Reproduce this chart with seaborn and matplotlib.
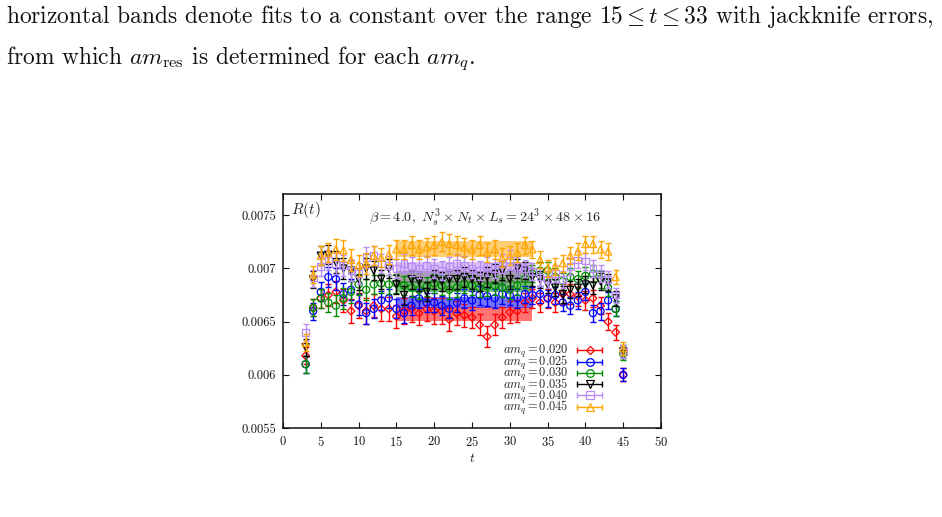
import numpy as np
import pandas as pd
import matplotlib
matplotlib.use("Agg")
import matplotlib.pyplot as plt
import seaborn as sns
from matplotlib.lines import Line2D
from matplotlib.legend_handler import HandlerLine2D, HandlerTuple
from matplotlib.ticker import FuncFormatter, MultipleLocator

# ---------------- data ----------------
t = list(range(3, 46))
labels = ["0.020", "0.025", "0.030", "0.035", "0.040", "0.045"]

r_020 = [0.00618, 0.00663, 0.00672, 0.00675, 0.00678, 0.00670, 0.00660, 0.00665, 0.00660, 0.00665,
         0.00662, 0.00662, 0.00655, 0.00660, 0.00662, 0.00658, 0.00662, 0.00660, 0.00660, 0.00652,
         0.00658, 0.00656, 0.00654, 0.00647, 0.00636, 0.00647, 0.00654, 0.00659, 0.00660, 0.00668,
         0.00672, 0.00668, 0.00672, 0.00668, 0.00676, 0.00676, 0.00674, 0.00670, 0.00672, 0.00665,
         0.00650, 0.00640, 0.00600]
r_025 = [0.00610, 0.00660, 0.00678, 0.00692, 0.00690, 0.00676, 0.00680, 0.00666, 0.00658, 0.00662,
         0.00670, 0.00672, 0.00662, 0.00658, 0.00665, 0.00672, 0.00668, 0.00668, 0.00665, 0.00662,
         0.00668, 0.00672, 0.00670, 0.00675, 0.00674, 0.00672, 0.00676, 0.00675, 0.00672, 0.00676,
         0.00675, 0.00676, 0.00672, 0.00675, 0.00668, 0.00665, 0.00670, 0.00678, 0.00658, 0.00660,
         0.00670, 0.00662, 0.00600]
r_030 = [0.00610, 0.00663, 0.00672, 0.00668, 0.00665, 0.00672, 0.00678, 0.00685, 0.00680, 0.00685,
         0.00686, 0.00685, 0.00686, 0.00684, 0.00682, 0.00680, 0.00683, 0.00686, 0.00684, 0.00680,
         0.00682, 0.00686, 0.00684, 0.00682, 0.00683, 0.00684, 0.00682, 0.00680, 0.00684, 0.00690,
         0.00695, 0.00698, 0.00698, 0.00692, 0.00688, 0.00692, 0.00690, 0.00693, 0.00695, 0.00690,
         0.00682, 0.00662, 0.00620]
r_035 = [0.00626, 0.00690, 0.00712, 0.00713, 0.00706, 0.00700, 0.00698, 0.00690, 0.00700, 0.00698,
         0.00690, 0.00700, 0.00685, 0.00675, 0.00690, 0.00688, 0.00678, 0.00690, 0.00688, 0.00690,
         0.00690, 0.00692, 0.00690, 0.00688, 0.00692, 0.00695, 0.00698, 0.00690, 0.00700, 0.00698,
         0.00692, 0.00690, 0.00685, 0.00682, 0.00676, 0.00680, 0.00682, 0.00685, 0.00684, 0.00688,
         0.00687, 0.00672, 0.00622]
r_040 = [0.00640, 0.00691, 0.00702, 0.00708, 0.00705, 0.00703, 0.00698, 0.00695, 0.00710, 0.00712,
         0.00705, 0.00703, 0.00700, 0.00705, 0.00702, 0.00700, 0.00703, 0.00700, 0.00698, 0.00702,
         0.00705, 0.00703, 0.00700, 0.00698, 0.00702, 0.00700, 0.00705, 0.00708, 0.00702, 0.00700,
         0.00697, 0.00692, 0.00690, 0.00695, 0.00690, 0.00702, 0.00708, 0.00707, 0.00700, 0.00695,
         0.00690, 0.00675, 0.00622]
r_045 = [0.00630, 0.00694, 0.00712, 0.00715, 0.00718, 0.00717, 0.00708, 0.00703, 0.00705, 0.00712,
         0.00710, 0.00713, 0.00718, 0.00718, 0.00722, 0.00718, 0.00720, 0.00722, 0.00725, 0.00723,
         0.00722, 0.00720, 0.00718, 0.00722, 0.00715, 0.00718, 0.00710, 0.00712, 0.00715, 0.00722,
         0.00718, 0.00708, 0.00700, 0.00702, 0.00705, 0.00712, 0.00716, 0.00723, 0.00723, 0.00718,
         0.00716, 0.00692, 0.00625]

err_red = [0.00008, 0.00008, 0.00009, 0.00010, 0.00010, 0.00011, 0.00011, 0.00012, 0.00012, 0.00011,
           0.00011, 0.00011, 0.00011, 0.00012, 0.00012, 0.00011, 0.00011, 0.00012, 0.00012, 0.00011,
           0.00011, 0.00011, 0.00010, 0.00010, 0.00010, 0.00010, 0.00010, 0.00010, 0.00010, 0.00009,
           0.00009, 0.00009, 0.00009, 0.00009, 0.00009, 0.00009, 0.00009, 0.00009, 0.00008, 0.00008,
           0.00008, 0.00007, 0.00006]
err_other = [0.00008, 0.00008, 0.00009, 0.00009, 0.00010, 0.00010, 0.00010, 0.00010, 0.00010, 0.00009,
             0.00009, 0.00009, 0.00009, 0.00009, 0.00009, 0.00009, 0.00009, 0.00009, 0.00009, 0.00009,
             0.00009, 0.00009, 0.00009, 0.00009, 0.00009, 0.00009, 0.00009, 0.00009, 0.00009, 0.00008,
             0.00008, 0.00008, 0.00008, 0.00008, 0.00008, 0.00008, 0.00008, 0.00008, 0.00008, 0.00008,
             0.00008, 0.00007, 0.00006]

fit_vals = [0.006570, 0.006680, 0.006830, 0.006920, 0.007010, 0.007180]
fit_errs = [0.000066, 0.000050, 0.000048, 0.000060, 0.000048, 0.000075]
fit_range = [15, 33]

series = [r_020, r_025, r_030, r_035, r_040, r_045]
errs = [err_red, err_other, err_other, err_other, err_other, err_other]

colors = ["#ff0000", "#0000ff", "#008b00", "#000000", "#b98cf5", "#ffa500"]
markers = ["D", "o", "o", "v", "s", "^"]
msizes = [16, 26, 26, 26, 24, 26]

# ---------------- style ----------------
sns.set_theme(style="ticks")
plt.rcParams["font.family"] = ["cmr10", "DejaVu Serif"]
plt.rcParams["mathtext.fontset"] = "cm"
plt.rcParams["axes.formatter.use_mathtext"] = True
plt.rcParams["axes.unicode_minus"] = False

fig = plt.figure(figsize=(9.42, 5.17), dpi=100)
fig.patch.set_facecolor("white")

# paper text
fig.text(0.006, 0.969, r"horizontal bands denote fits to a constant over the range $15 \leq t \leq 33$ with jackknife errors,",
         fontsize=16.9, va="center", ha="left", color="#111111")
fig.text(0.006, 0.885, r"from which $am_{\mathrm{res}}$ is determined for each $am_q$.",
         fontsize=16.9, va="center", ha="left", color="#111111")

ax = fig.add_axes([0.3004, 0.1721, 0.4013, 0.4526])
ax.set_facecolor("white")

# bands
for i in range(6):
    ax.fill_between(fit_range, [fit_vals[i] - fit_errs[i]] * 2, [fit_vals[i] + fit_errs[i]] * 2,
                    color=colors[i] if colors[i] != "#000000" else "#555555",
                    alpha=0.55, lw=0, zorder=1 + 0.1 * i)

for i in range(6):
    df = pd.DataFrame({"t": t, "R": series[i], "err": errs[i]})
    ax.errorbar(df["t"], df["R"], yerr=df["err"], fmt="none", ecolor=colors[i],
                elinewidth=1.0, capsize=2.2, capthick=1.0, zorder=2 + 2 * i)
    n0 = len(ax.collections)
    sns.scatterplot(data=df, x="t", y="R", ax=ax, marker=markers[i], s=msizes[i],
                    color=colors[i], linewidth=0.9, legend=False, zorder=3 + 2 * i)
    for coll in ax.collections[n0:]:
        coll.set_facecolor("none")
        coll.set_edgecolor(colors[i])

ax.set_xlim(0, 50)
ax.set_ylim(0.0055, 0.0077)
ax.xaxis.set_major_locator(MultipleLocator(5))
ax.set_yticks([0.0055, 0.006, 0.0065, 0.007, 0.0075])
ax.yaxis.set_major_formatter(FuncFormatter(lambda v, p: "%g" % v))
ax.tick_params(direction="in", top=True, right=True, length=4, width=0.8,
               labelsize=9, colors="#111111", pad=5)
for sp in ax.spines.values():
    sp.set_visible(True)
    sp.set_linewidth(1.1)
    sp.set_color("#111111")
ax.set_xlabel("$t$", fontsize=9.5, labelpad=2)
ax.set_ylabel("")
ax.grid(False)

ax.text(0.02, 0.93, "$R(t)$", transform=ax.transAxes, fontsize=11, ha="left", va="center")
ax.text(0.535, 0.90, r"$\beta = 4.0,\ N_s^3 \times N_t \times L_s = 24^3 \times 48 \times 16$",
        transform=ax.transAxes, fontsize=10.2, ha="center", va="center")

# legend (gnuplot style: label then horizontal errorbar sample)
handles = []
hmap = {}
for i in range(6):
    eline = Line2D([], [], color=colors[i], lw=1.0, marker="|", markersize=5, mew=1.0)
    mk = Line2D([], [], ls="none", marker=markers[i], mfc="none", mec=colors[i],
                markersize=5.5 if markers[i] != "D" else 4.5, mew=0.9)
    hmap[eline] = HandlerLine2D(numpoints=2)
    handles.append((eline, mk))
hmap[tuple] = HandlerTuple(ndivide=1, pad=0)
leg = ax.legend(handles, [f"$am_q = {l}$" for l in labels], handler_map=hmap,
                markerfirst=False, frameon=False, loc="lower right",
                bbox_to_anchor=(0.855, 0.045), borderaxespad=0, borderpad=0,
                fontsize=8.9, handlelength=2.7, labelspacing=-0.5,
                handletextpad=0.35, numpoints=1)

fig.savefig("out.png", dpi=100)
